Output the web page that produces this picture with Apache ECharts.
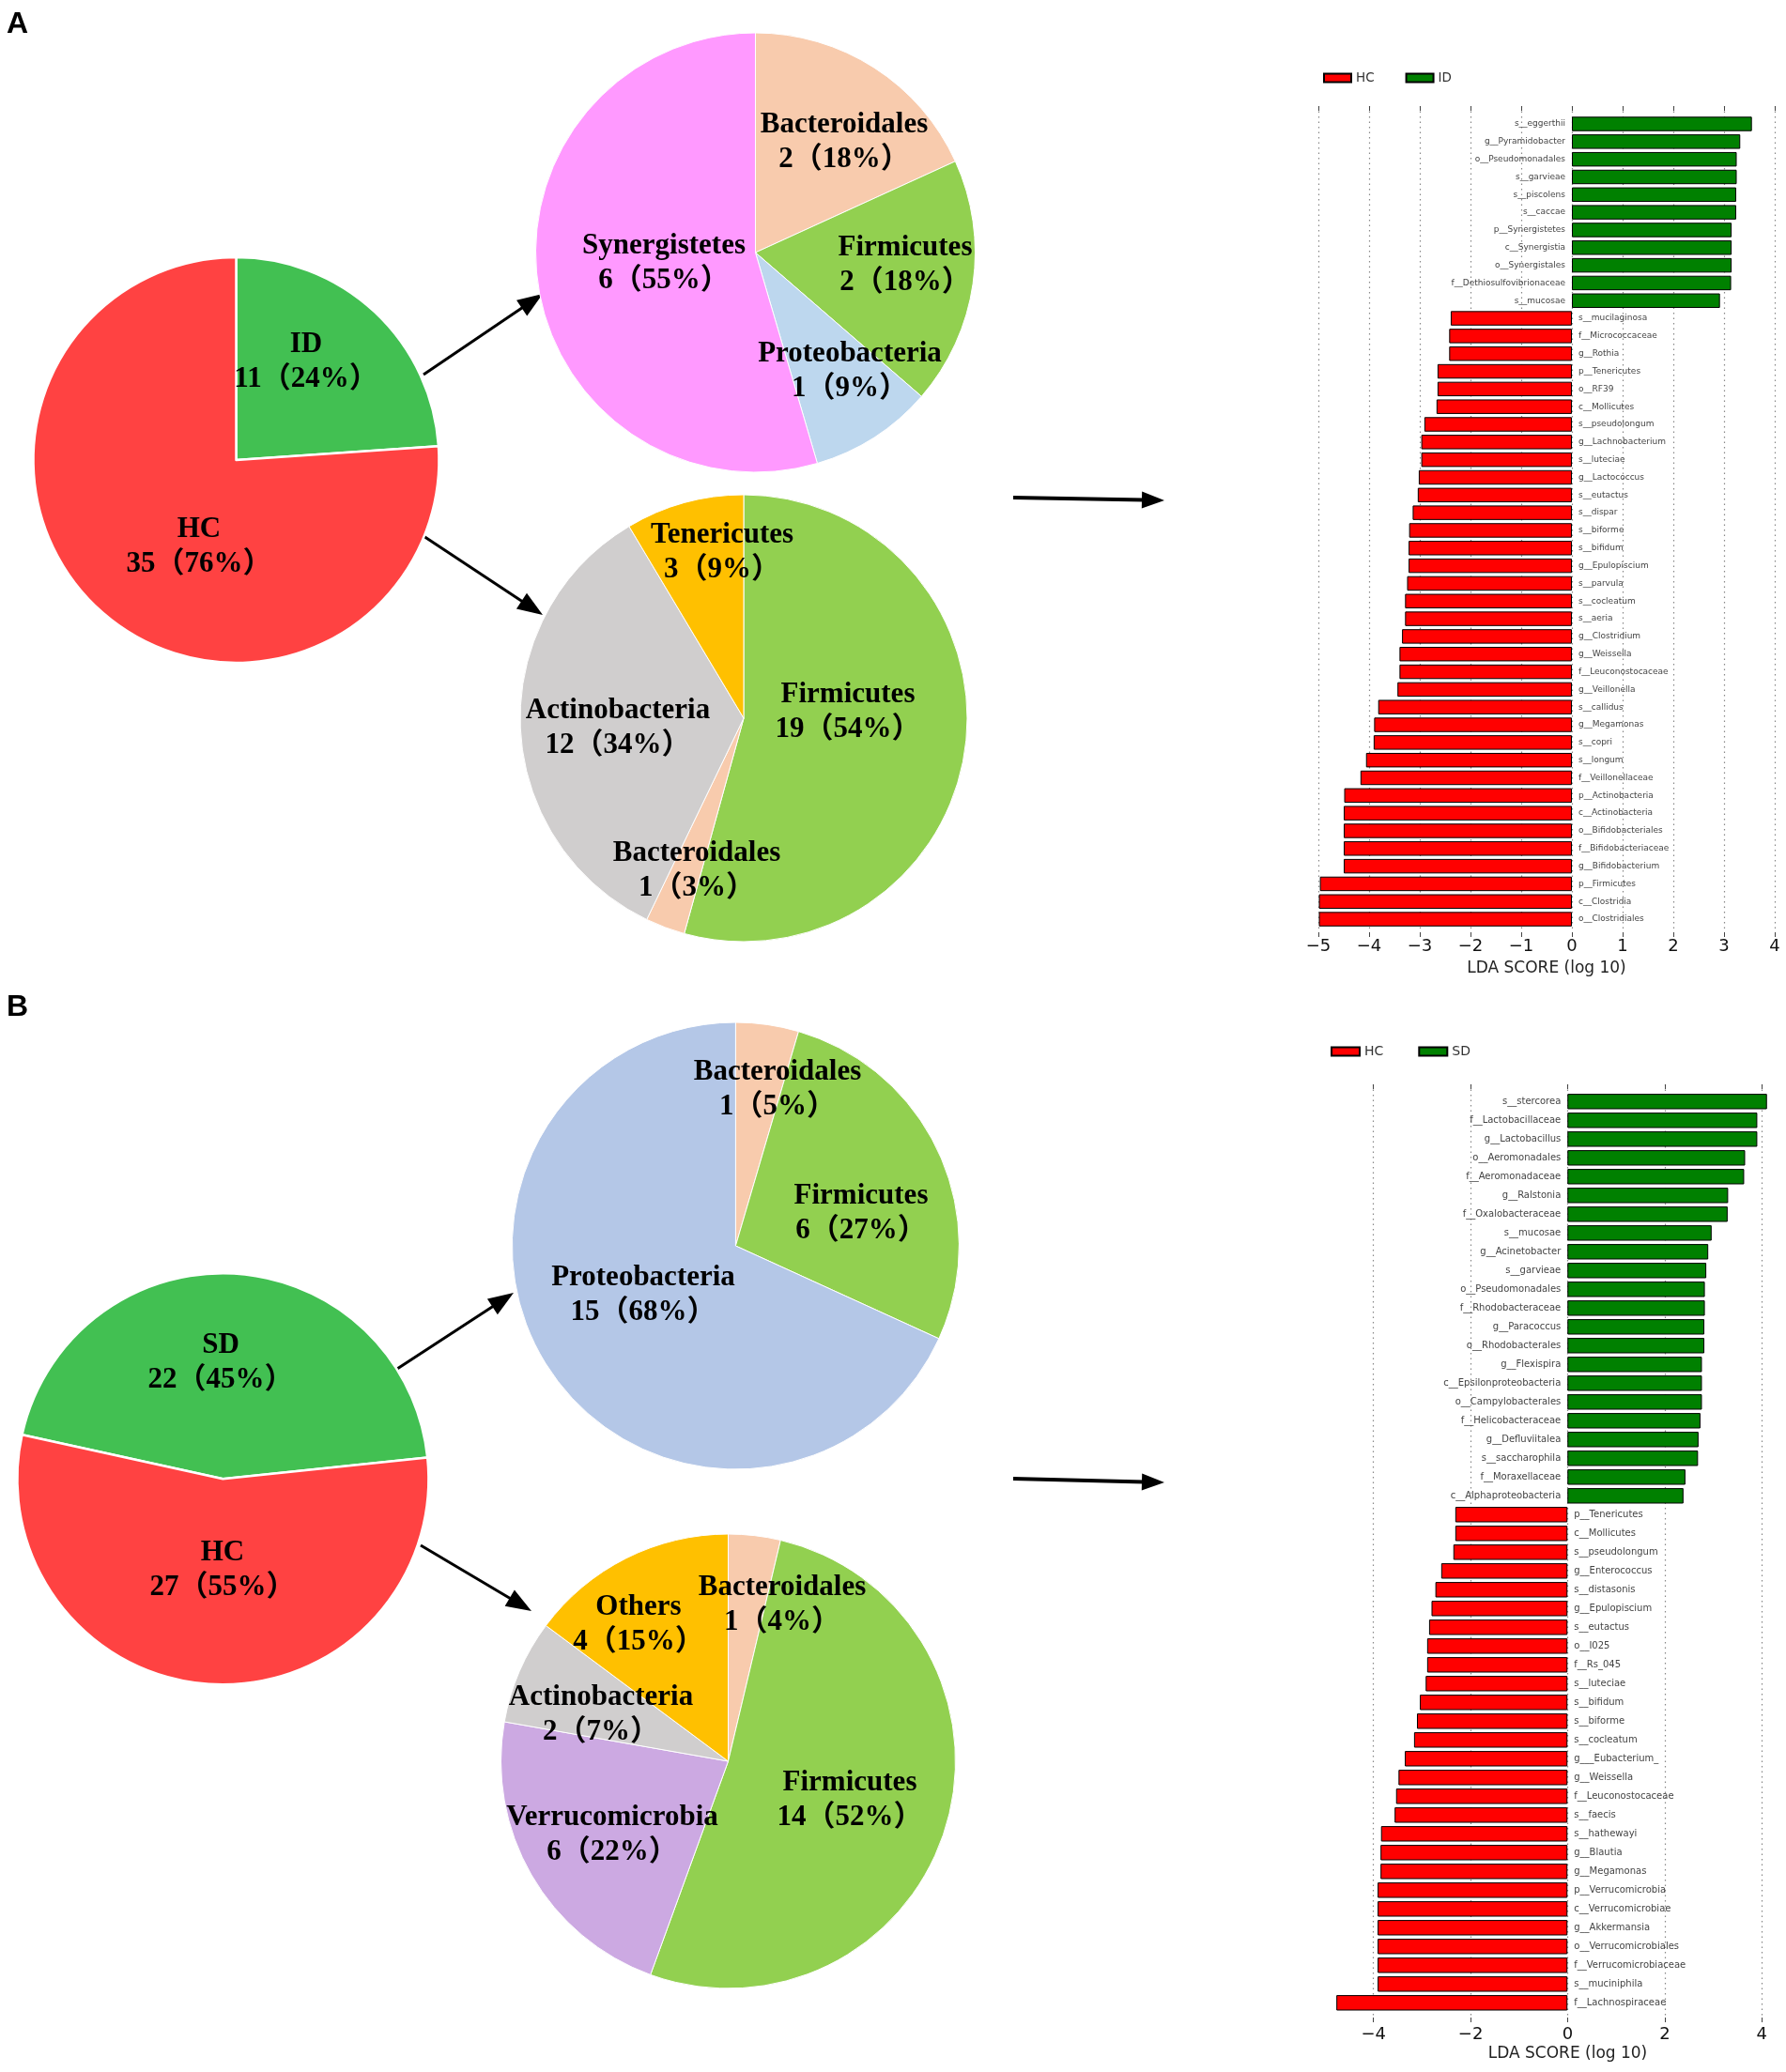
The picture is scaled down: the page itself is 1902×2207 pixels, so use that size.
<!DOCTYPE html>
<html><head><meta charset="utf-8">
<script src="https://cdn.jsdelivr.net/npm/echarts@6/dist/echarts.min.js"></script>
<style>html,body{margin:0;padding:0;background:#fff}#c{width:1902px;height:2207px}</style>
</head><body><div id="c"></div><script>
// ---------- DATA ----------
const pieA_groups = ['ID', 'HC'];
const pieA_groupCounts = [11, 35];
const pieA_ID_taxa = ['Bacteroidales', 'Firmicutes', 'Proteobacteria', 'Synergistetes'];
const pieA_ID_counts = [2, 2, 1, 6];
const pieA_HC_taxa = ['Firmicutes', 'Bacteroidales', 'Actinobacteria', 'Tenericutes'];
const pieA_HC_counts = [19, 1, 12, 3];

const pieB_groups = ['SD', 'HC'];
const pieB_groupCounts = [22, 27];
const pieB_SD_taxa = ['Bacteroidales', 'Firmicutes', 'Proteobacteria'];
const pieB_SD_counts = [1, 6, 15];
const pieB_HC_taxa = ['Bacteroidales', 'Firmicutes', 'Verrucomicrobia', 'Actinobacteria', 'Others'];
const pieB_HC_counts = [1, 14, 6, 2, 4];

const ldaA_taxa = ['s__eggerthii','g__Pyramidobacter','o__Pseudomonadales','s__garvieae','s__piscolens','s__caccae','p__Synergistetes','c__Synergistia','o__Synergistales','f__Dethiosulfovibrionaceae','s__mucosae',
 's__mucilaginosa','f__Micrococcaceae','g__Rothia','p__Tenericutes','o__RF39','c__Mollicutes','s__pseudolongum','g__Lachnobacterium','s__luteciae','g__Lactococcus','s__eutactus','s__dispar','s__biforme','s__bifidum','g__Epulopiscium','s__parvula','s__cocleatum','s__aeria','g__Clostridium','g__Weissella','f__Leuconostocaceae','g__Veillonella','s__callidus','g__Megamonas','s__copri','s__longum','f__Veillonellaceae','p__Actinobacteria','c__Actinobacteria','o__Bifidobacteriales','f__Bifidobacteriaceae','g__Bifidobacterium','p__Firmicutes','c__Clostridia','o__Clostridiales'];
const ldaA_scores = [3.55,3.32,3.25,3.25,3.24,3.24,3.15,3.15,3.15,3.14,2.92,
 -2.39,-2.42,-2.42,-2.65,-2.65,-2.67,-2.91,-2.97,-2.97,-3.02,-3.04,-3.14,-3.21,-3.22,-3.22,-3.25,-3.29,-3.29,-3.35,-3.40,-3.40,-3.44,-3.82,-3.90,-3.91,-4.06,-4.17,-4.49,-4.50,-4.50,-4.50,-4.50,-4.97,-4.99,-4.99];

const ldaB_taxa = ['s__stercorea','f__Lactobacillaceae','g__Lactobacillus','o__Aeromonadales','f__Aeromonadaceae','g__Ralstonia','f__Oxalobacteraceae','s__mucosae','g__Acinetobacter','s__garvieae','o__Pseudomonadales','f__Rhodobacteraceae','g__Paracoccus','o__Rhodobacterales','g__Flexispira','c__Epsilonproteobacteria','o__Campylobacterales','f__Helicobacteraceae','g__Defluviitalea','s__saccharophila','f__Moraxellaceae','c__Alphaproteobacteria',
 'p__Tenericutes','c__Mollicutes','s__pseudolongum','g__Enterococcus','s__distasonis','g__Epulopiscium','s__eutactus','o__I025','f__Rs_045','s__luteciae','s__bifidum','s__biforme','s__cocleatum','g___Eubacterium_','g__Weissella','f__Leuconostocaceae','s__faecis','s__hathewayi','g__Blautia','g__Megamonas','p__Verrucomicrobia','c__Verrucomicrobiae','g__Akkermansia','o__Verrucomicrobiales','f__Verrucomicrobiaceae','s__muciniphila','f__Lachnospiraceae'];
const ldaB_scores = [4.11,3.91,3.91,3.66,3.64,3.31,3.30,2.97,2.90,2.86,2.83,2.83,2.82,2.82,2.77,2.77,2.77,2.74,2.70,2.69,2.43,2.39,
 -2.31,-2.31,-2.35,-2.60,-2.72,-2.80,-2.85,-2.89,-2.89,-2.92,-3.04,-3.10,-3.16,-3.35,-3.48,-3.53,-3.56,-3.84,-3.85,-3.85,-3.91,-3.91,-3.91,-3.91,-3.91,-3.91,-4.76];

const ldaTicksA = [-5, 4, 1];
const ldaTicksB = [-4, 4, 2];

// ---------- STYLE ----------
const pieColors = {
  ID: '#42C052', HC: '#FF4242', SD: '#42C052',
  Bacteroidales: '#F8CBAD', Firmicutes: '#92D050', Synergistetes: '#FF99FF',
  Tenericutes: '#FFC000', Others: '#FFC000', Actinobacteria: '#D0CECE',
  Verrucomicrobia: '#CCA9E2'
};
const protoColor = { A: '#BDD7EE', B: '#B4C7E7' };
const pieFont = '"Liberation Serif", "Noto Sans CJK SC", serif';
const barFont = '"DejaVu Sans", sans-serif';

function pieData(names, counts, protoKey) {
  return names.map((n, i) => ({
    name: n, value: counts[i],
    itemStyle: { color: n === 'Proteobacteria' ? protoColor[protoKey] : pieColors[n] }
  }));
}
function pieSeries(names, counts, protoKey, center, r, labelPos, bw) {
  return {
    type: 'pie', center: center, radius: r, startAngle: 90, clockwise: true,
    percentPrecision: 0, silent: true, animation: false,
    data: pieData(names, counts, protoKey),
    itemStyle: { borderColor: '#fff', borderWidth: bw },
    label: {
      show: true, position: 'inside', color: '#000', fontFamily: pieFont,
      fontWeight: 'bold', fontSize: 31, lineHeight: 37, align: 'center',
      formatter: p => p.name + '\n' + p.value + '（' + p.percent + '%）'
    },
    labelLine: { show: false },
    labelLayout: p => ({ x: labelPos[p.dataIndex][0], y: labelPos[p.dataIndex][1], align: 'center', verticalAlign: 'middle' })
  };
}
const minusFmt = v => String(v).replace('-', '\u2212');

function axisPair(gi, rng, labelMargin, nameGap) {
  const common = {
    gridIndex: gi, type: 'value', min: rng[0], max: rng[1], interval: rng[2],
    axisLine: { show: false }
  };
  return [
    Object.assign({}, common, {
      position: 'bottom',
      axisTick: { show: true, inside: false, length: 5, lineStyle: { color: '#444' } },
      axisLabel: { fontSize: 18, margin: labelMargin, color: '#111', fontFamily: barFont, formatter: minusFmt },
      splitLine: { show: true, lineStyle: { type: [1.5, 4], color: '#888', width: 1.2 } },
      name: 'LDA SCORE (log 10)', nameLocation: 'middle', nameGap: nameGap,
      nameTextStyle: { fontSize: 17, color: '#222', fontFamily: barFont }
    }),
    Object.assign({}, common, {
      position: 'top',
      axisTick: { show: true, inside: true, length: 5, lineStyle: { color: '#444' } },
      axisLabel: { show: false }, splitLine: { show: false }
    })
  ];
}
function barSeries(name, scores, positive, xi, yi, color, fs) {
  return {
    type: 'bar', name: name, xAxisIndex: xi, yAxisIndex: yi, animation: false,
    data: scores.map(v => (positive ? (v > 0 ? v : '-') : (v < 0 ? v : '-'))),
    barGap: '-100%', barCategoryGap: '18%',
    itemStyle: { color: color, borderColor: '#000', borderWidth: 1 },
    label: {
      show: true, position: positive ? 'left' : 'right', distance: 7,
      formatter: '{b}', fontSize: fs, color: '#444', fontFamily: barFont
    }
  };
}

function arrow(x1, y1, x2, y2, lw, hl, hw) {
  const dx = x2 - x1, dy = y2 - y1, L = Math.hypot(dx, dy);
  const ux = dx / L, uy = dy / L, nx = -uy, ny = ux;
  const bx = x2 - ux * hl, by = y2 - uy * hl;
  return [
    { type: 'line', silent: true, shape: { x1: x1, y1: y1, x2: bx + ux * 2, y2: by + uy * 2 }, style: { stroke: '#000', lineWidth: lw } },
    { type: 'polygon', silent: true, shape: { points: [[x2, y2], [bx + nx * hw, by + ny * hw], [bx - nx * hw, by - ny * hw]] }, style: { fill: '#000' } }
  ];
}

const axA = axisPair(0, ldaTicksA, 6, 30);
const axB = axisPair(2, ldaTicksB, 9, 30);

const option = {
  backgroundColor: '#fff',
  animation: false,
  grid: [
    { left: 1404, top: 113, width: 486, height: 880 },
    { left: 1404, top: 122.6, width: 486, height: 865.9 },
    { left: 1462.7, top: 1155, width: 413.6, height: 994 },
    { left: 1421.1, top: 1163.3, width: 465.3, height: 980 }
  ],
  xAxis: [
    axA[0], axA[1],
    { gridIndex: 1, type: 'value', min: ldaTicksA[0], max: ldaTicksA[1], show: false },
    axB[0], axB[1],
    { gridIndex: 3, type: 'value', min: -4.8, max: 4.2, show: false }
  ],
  yAxis: [
    { gridIndex: 0, type: 'value', min: 0, max: 1, show: false },
    { gridIndex: 1, type: 'category', data: ldaA_taxa, inverse: true, show: false },
    { gridIndex: 2, type: 'value', min: 0, max: 1, show: false },
    { gridIndex: 3, type: 'category', data: ldaB_taxa, inverse: true, show: false }
  ],
  legend: [
    { data: ['HC', 'ID'], left: 1409, top: 76, padding: 0, itemWidth: 29, itemHeight: 9, itemGap: 33, icon: 'rect',
      selectedMode: false, textStyle: { fontSize: 13.5, color: '#333', fontFamily: barFont } },
    { data: ['HC', 'SD'], left: 1417, top: 1113, padding: 0, itemWidth: 30, itemHeight: 9, itemGap: 37, icon: 'rect',
      selectedMode: false, textStyle: { fontSize: 14, color: '#333', fontFamily: barFont } }
  ],
  series: [
    barSeries('HC', ldaA_scores, false, 2, 1, '#FF0000', 9),
    barSeries('ID', ldaA_scores, true, 2, 1, '#008000', 9),
    barSeries('HC', ldaB_scores, false, 5, 3, '#FF0000', 10),
    barSeries('SD', ldaB_scores, true, 5, 3, '#008000', 10),
    pieSeries(pieA_groups, pieA_groupCounts, 'A', [251.5, 490], 216, [[326, 385], [212, 582]], 2.5),
    pieSeries(pieA_ID_taxa, pieA_ID_counts, 'A', [804.5, 269], 234, [[899, 151], [964, 282], [905, 395], [707, 280]], 1),
    pieSeries(pieA_HC_taxa, pieA_HC_counts, 'A', [792, 765], 238, [[903, 758], [742, 927], [658, 775], [769, 588]], 1),
    Object.assign(pieSeries(pieB_groups, pieB_groupCounts, 'B', [237.4, 1575.3], 219, [[235, 1451], [237, 1672]], 2.5), { startAngle: 167.6 }),
    pieSeries(pieB_SD_taxa, pieB_SD_counts, 'B', [783.4, 1327], 238, [[828, 1160], [917, 1292], [685, 1379]], 1),
    pieSeries(pieB_HC_taxa, pieB_HC_counts, 'B', [775.5, 1876], 242, [[833, 1709], [905, 1917], [652, 1954], [640, 1826], [680, 1730]], 1)
  ],
  graphic: [
    { type: 'text', left: 7, top: 10, silent: true, style: { text: 'A', font: 'bold 32px "Liberation Sans", Arial, sans-serif', fill: '#000' } },
    { type: 'text', left: 7, top: 1057, silent: true, style: { text: 'B', font: 'bold 32px "Liberation Sans", Arial, sans-serif', fill: '#000' } }
  ].concat(
    arrow(451, 399, 578, 313, 3, 27, 10),
    arrow(451, 571, 578, 655, 3, 27, 10),
    arrow(1079, 530, 1240, 533, 4, 24, 9),
    arrow(423, 1458, 547, 1377, 3, 27, 10),
    arrow(448, 1646, 566, 1716, 3, 27, 10),
    arrow(1079, 1575, 1240, 1579, 4, 24, 9)
  )
};
const chart = echarts.init(document.getElementById('c'), null, { renderer: 'canvas' });
chart.setOption(option);
</script></body></html>
